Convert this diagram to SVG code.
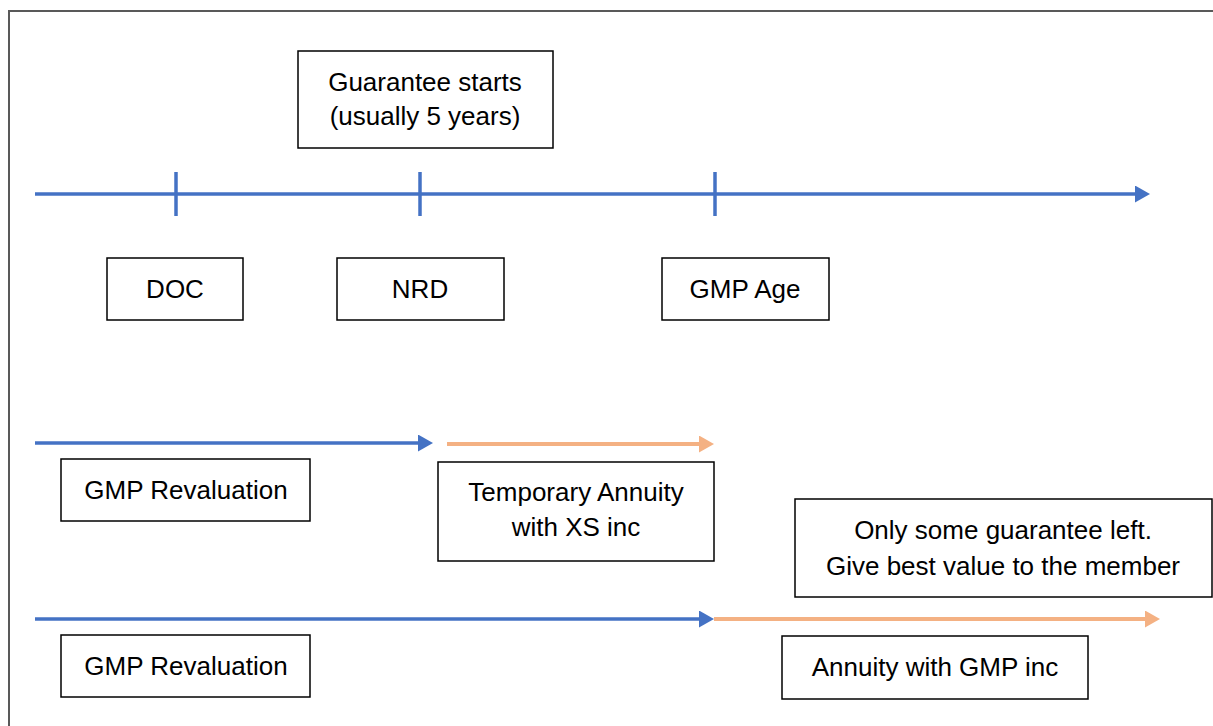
<svg xmlns="http://www.w3.org/2000/svg" width="1213" height="726" viewBox="0 0 1213 726">
<defs>
<style>
.box{fill:#fff;stroke:#000;stroke-width:1.5}
.t{font-family:"Liberation Sans",Arial,sans-serif;font-size:26px;fill:#000;text-anchor:middle}
.blue{stroke:#4472C4;stroke-width:3.5;fill:none}
.orange{stroke:#F4B183;stroke-width:4;fill:none}
</style>
<marker id="ab" viewBox="0 0 15 17" refX="6" refY="8.5" markerWidth="15" markerHeight="17" markerUnits="userSpaceOnUse" orient="auto"><path d="M0,0 L15,8.5 L0,17 z" fill="#4472C4"/></marker>
<marker id="ao" viewBox="0 0 15 17" refX="6" refY="8.5" markerWidth="15" markerHeight="17" markerUnits="userSpaceOnUse" orient="auto"><path d="M0,0 L15,8.5 L0,17 z" fill="#F4B183"/></marker>
</defs>
<rect x="0" y="0" width="1213" height="726" fill="#fff"/>
<rect x="9" y="11" width="1220" height="740" fill="none" stroke="#595959" stroke-width="2"/>
<g id="connectors">
<line class="blue" x1="35" y1="194" x2="1141" y2="194" marker-end="url(#ab)"/>
<line class="blue" x1="176" y1="172" x2="176" y2="216"/>
<line class="blue" x1="420" y1="172" x2="420" y2="216"/>
<line class="blue" x1="715" y1="172" x2="715" y2="216"/>
<line class="blue" x1="35" y1="443" x2="424" y2="443" marker-end="url(#ab)"/>
<line class="orange" x1="447" y1="444" x2="705" y2="444" marker-end="url(#ao)"/>
<line class="blue" x1="35" y1="619" x2="705" y2="619" marker-end="url(#ab)"/>
<line class="orange" x1="714" y1="619" x2="1151" y2="619" marker-end="url(#ao)"/>
</g>
<g id="guarantee">
<rect class="box" x="298" y="51" width="255" height="97"/>
<text class="t" x="425" y="91">Guarantee starts</text>
<text class="t" x="425" y="125">(usually 5 years)</text>
</g>
<g id="doc">
<rect class="box" x="107" y="258" width="136" height="62"/>
<text class="t" x="175" y="298">DOC</text>
</g>
<g id="nrd">
<rect class="box" x="337" y="258" width="167" height="62"/>
<text class="t" x="420" y="298">NRD</text>
</g>
<g id="gmpage">
<rect class="box" x="662" y="258" width="167" height="62"/>
<text class="t" x="745" y="298">GMP Age</text>
</g>
<g id="gmprev1">
<rect class="box" x="61" y="459" width="249" height="62"/>
<text class="t" x="186" y="499">GMP Revaluation</text>
</g>
<g id="tempann">
<rect class="box" x="438" y="462" width="276" height="99"/>
<text class="t" x="576" y="501">Temporary Annuity</text>
<text class="t" x="576" y="536">with XS inc</text>
</g>
<g id="onlysome">
<rect class="box" x="795" y="499" width="417" height="98"/>
<text class="t" x="1003" y="539">Only some guarantee left.</text>
<text class="t" x="1003" y="575">Give best value to the member</text>
</g>
<g id="gmprev2">
<rect class="box" x="61" y="635" width="249" height="62"/>
<text class="t" x="186" y="675">GMP Revaluation</text>
</g>
<g id="annuity">
<rect class="box" x="782" y="636" width="306" height="63"/>
<text class="t" x="935" y="676">Annuity with GMP inc</text>
</g>
</svg>
